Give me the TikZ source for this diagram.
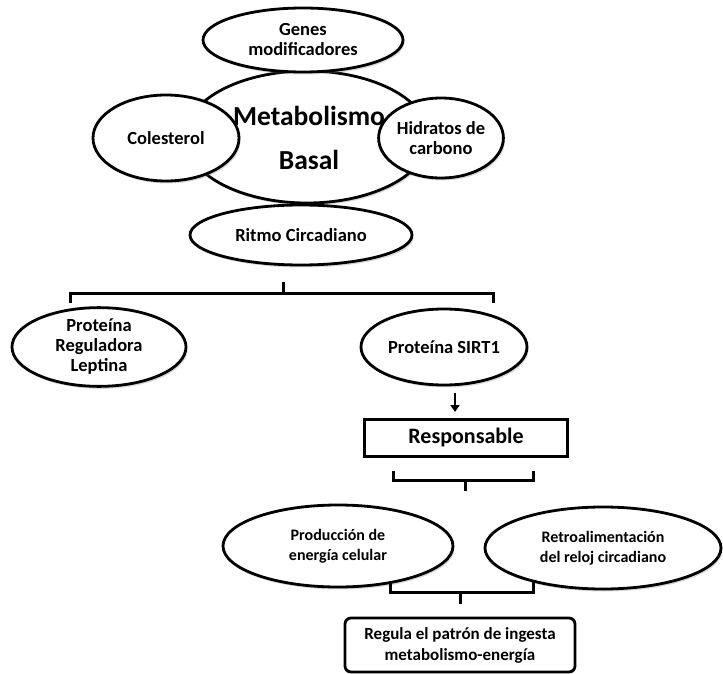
\documentclass[tikz,border=0pt]{standalone}
\usepackage{fontspec}
\setmainfont{Carlito}
\usetikzlibrary{shapes.geometric,shadows,arrows.meta}
\begin{document}
\begin{tikzpicture}[x=1pt,y=-1pt,
  every node/.style={font=\bfseries\fontsize{18.5}{20}\selectfont, align=center, inner sep=0pt},
  ell/.style={ellipse, draw, line width=2.8pt, fill=white,
     drop shadow={opacity=0.3, shadow xshift=1.5pt, shadow yshift=-2.5pt}},
  brk/.style={line width=3pt},
  box/.style={draw, line width=2.8pt, fill=white}
]
\useasboundingbox (0,0) rectangle (723,674);
% main ellipse
\node[ell, minimum width=244, minimum height=132] (main) at (307,137) {};
\node[font=\bfseries\fontsize{27.5}{30}\selectfont] (t1) at (309,116) {Metabolismo};
\node[font=\bfseries\fontsize{27.5}{30}\selectfont] (t2) at (309,160) {Basal};
% surrounding ellipses
\node[ell, minimum width=200, minimum height=64] (genes) at (303,40) {Genes\\modificadores};
\node[ell, minimum width=146, minimum height=86] (col) at (166,138) {Colesterol};
\node[ell, minimum width=112, minimum height=80] (hid) at (441,138) {Hidratos de\\carbono};
\node[ell, minimum width=222, minimum height=60] (rit) at (301,235) {Ritmo Circadiano};
% first bracket
\coordinate (b1s) at (283,282);
\coordinate (b1m) at (283,293);
\coordinate (b1l) at (70,303);
\coordinate (b1r) at (493,303);
\draw[brk] (b1l) -- (70,293) -- (493,293) -- (b1r);
\draw[brk] (b1s) -- (b1m);
% protein ellipses
\node[ell, minimum width=174, minimum height=76] (lep) at (99,347) {Proteína\\Reguladora\\Leptina};
\node[ell, minimum width=166, minimum height=76] (sirt) at (444,347) {Proteína SIRT1};
% arrow
\node[box, minimum width=203, minimum height=37, font=\bfseries\fontsize{22}{24}\selectfont] (resp) at (466,438) {Responsable};
\coordinate (a1) at (455,393);
\coordinate (a2) at (455,412);
\draw[line width=2.8pt, -{Triangle[length=7pt,width=9pt]}] (a1) -- (a2);
% second bracket
\coordinate (b2m) at (465,480);
\coordinate (b2s) at (465,491);
\draw[brk] (393,471) -- (393,480) -- (533,480) -- (533,471);
\draw[brk] (b2m) -- (b2s);
% lower ellipses
\node[ell, minimum width=230, minimum height=82, font=\bfseries\fontsize{16}{20}\selectfont] (prod) at (338,546) {Producción de\\energía celular};
\node[ell, minimum width=236, minimum height=82, font=\bfseries\fontsize{16}{20}\selectfont] (retro) at (603,548) {Retroalimentación\\del reloj circadiano};
% third bracket
\coordinate (b3m) at (460,592);
\coordinate (b3s) at (460,604);
\draw[brk] (390,581) -- (390,592) -- (533,592) -- (533,581);
\draw[brk] (b3m) -- (b3s);
% final box
\node[box, rounded corners=6pt, minimum width=230, minimum height=54, font=\bfseries\fontsize{17}{21}\selectfont] (reg) at (460,645) {Regula el patrón de ingesta\\metabolismo-energía};
\end{tikzpicture}
\end{document}
